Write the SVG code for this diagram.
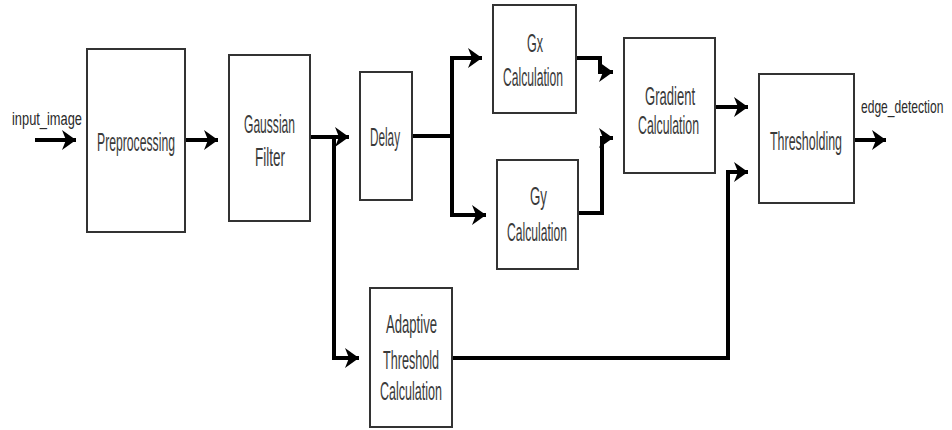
<svg xmlns="http://www.w3.org/2000/svg" width="952" height="430" viewBox="0 0 952 430">
<defs>
<marker id="ah" markerUnits="userSpaceOnUse" markerWidth="16" markerHeight="22" refX="14" refY="10" orient="auto">
<path d="M0,0 L14,10 L0,20 L4,10 z" fill="#000"/>
</marker>
<style>
.box{fill:#fff;stroke:#333;stroke-width:2}
.t{font-family:"Liberation Sans",Arial,sans-serif;font-size:25px;fill:#3a3a3a}
.s{font-family:"Liberation Sans",Arial,sans-serif;font-size:18px;fill:#2a2a2a}
.c{fill:none;stroke:#000;stroke-width:4}
.a{marker-end:url(#ah)}
</style>
</defs>
<rect width="952" height="430" fill="#fff"/>
<g id="connectors">
<path class="c a" d="M35,140 H76"/>
<path class="c a" d="M185,140 H218"/>
<path class="c a" d="M310,137 H349"/>
<path class="c a" d="M334,137 V358 H359"/>
<path class="c" d="M412,136 H452"/>
<path class="c" d="M452,58 V215"/>
<path class="c a" d="M450,58 H482"/>
<path class="c a" d="M450,215 H486"/>
<path class="c a" d="M576,58 H600 V72 H613"/>
<path class="c a" d="M578,213 H602 V138 H613"/>
<path class="c a" d="M715,107 H748"/>
<path class="c a" d="M452,358 H728 V172 H748"/>
<path class="c a" d="M854,140 H886"/>
</g>
<g id="input_label"><text class="s" x="12" y="125" textLength="70" lengthAdjust="spacingAndGlyphs">input_image</text></g>
<g id="preprocessing">
<rect class="box" x="87" y="49" width="98" height="183"/>
<text class="t" x="97" y="151" textLength="78" lengthAdjust="spacingAndGlyphs">Preprocessing</text>
</g>
<g id="gaussian">
<rect class="box" x="229" y="55" width="81" height="166"/>
<text class="t" x="244" y="133" textLength="51" lengthAdjust="spacingAndGlyphs">Gaussian</text>
<text class="t" x="255" y="166" textLength="30" lengthAdjust="spacingAndGlyphs">Filter</text>
</g>
<g id="delay">
<rect class="box" x="360" y="72" width="52" height="128"/>
<text class="t" x="370" y="146" textLength="30" lengthAdjust="spacingAndGlyphs">Delay</text>
</g>
<g id="gx">
<rect class="box" x="493" y="5" width="83" height="108"/>
<text class="t" x="527" y="52" textLength="16" lengthAdjust="spacingAndGlyphs">Gx</text>
<text class="t" x="503" y="86" textLength="60" lengthAdjust="spacingAndGlyphs">Calculation</text>
</g>
<g id="gy">
<rect class="box" x="497" y="160" width="81" height="109"/>
<text class="t" x="530" y="205" textLength="17" lengthAdjust="spacingAndGlyphs">Gy</text>
<text class="t" x="507" y="241" textLength="60" lengthAdjust="spacingAndGlyphs">Calculation</text>
</g>
<g id="gradient">
<rect class="box" x="624" y="38" width="91" height="135"/>
<text class="t" x="645" y="105" textLength="50" lengthAdjust="spacingAndGlyphs">Gradient</text>
<text class="t" x="638" y="134" textLength="61" lengthAdjust="spacingAndGlyphs">Calculation</text>
</g>
<g id="thresholding">
<rect class="box" x="759" y="74" width="95" height="129"/>
<text class="t" x="770" y="150" textLength="72" lengthAdjust="spacingAndGlyphs">Thresholding</text>
</g>
<g id="output_label"><text class="s" transform="translate(861,113) scale(0.67,1)">edge_detection</text></g>
<g id="adaptive">
<rect class="box" x="370" y="288" width="82" height="139"/>
<text class="t" x="386" y="333" textLength="51" lengthAdjust="spacingAndGlyphs">Adaptive</text>
<text class="t" x="383" y="369" textLength="56" lengthAdjust="spacingAndGlyphs">Threshold</text>
<text class="t" x="380" y="400" textLength="62" lengthAdjust="spacingAndGlyphs">Calculation</text>
</g>
</svg>
